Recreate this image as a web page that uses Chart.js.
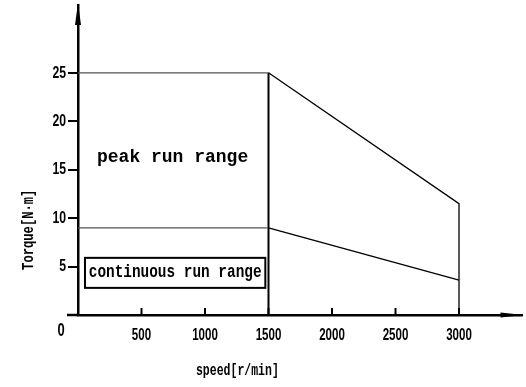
<!DOCTYPE html>
<html>
<head>
<meta charset="utf-8">
<script src="https://cdn.jsdelivr.net/npm/chart.js@4.4.1/dist/chart.umd.min.js"></script>
<style>
  html, body { margin: 0; padding: 0; background: #fff; }
  #wrap { width: 526px; height: 387px; }
</style>
</head>
<body>
<div id="wrap"><canvas id="torque-chart" width="526" height="387"></canvas></div>
<script>
// Curva torque x velocidade (faixas de operacao)
const speedTicks = [500, 1000, 1500, 2000, 2500, 3000];
const torqueTicks = [5, 10, 15, 20, 25];

const peakSpeed = [0, 1500, 3000, 3000];
const peakTorque = [25, 25, 11.5, 0];

const contSpeed = [0, 1500, 3000];
const contTorque = [9, 9, 3.6];

const dividerSpeed = [1500, 1500];
const dividerTorque = [0, 25];

const xTitle = 'speed[r/min]';
const yTitle = 'Torque[N\u00b7m]';
const peakLabel = 'peak run range';
const contLabel = 'continuous run range';

function toPoints(xs, ys) {
  return xs.map((x, i) => ({ x: x, y: ys[i] }));
}

const numFont = "'Liberation Sans', Arial, sans-serif";
const textFont = "'Liberation Mono', 'DejaVu Sans Mono', monospace";

// linhas horizontais em cinza, o resto em preto
const segColor = ctx => (ctx.p0.parsed.y === ctx.p1.parsed.y ? '#555' : '#000');

// texto estreito (a fonte do desenho original e condensada)
function narrowText(ctx, txt, x, y, sx) {
  ctx.save();
  ctx.translate(x, y);
  ctx.scale(sx, 1);
  ctx.fillText(txt, 0, 0);
  ctx.restore();
}

const extras = {
  id: 'extras',
  afterDraw(chart) {
    const ctx = chart.ctx;
    const xs = chart.scales.x;
    const ys = chart.scales.y;
    const area = chart.chartArea;
    const ox = xs.getPixelForValue(0);
    const oy = ys.getPixelForValue(0);
    ctx.save();

    // eixo x prolongado para a esquerda
    ctx.strokeStyle = '#000';
    ctx.lineWidth = 2.5;
    ctx.beginPath();
    ctx.moveTo(ox - 11, oy);
    ctx.lineTo(ox, oy);
    ctx.stroke();

    // marcas do eixo x (para cima)
    ctx.lineWidth = 2;
    xs.ticks.forEach(t => {
      const px = xs.getPixelForValue(t.value);
      ctx.beginPath();
      ctx.moveTo(px, oy);
      ctx.lineTo(px, oy - 7);
      ctx.stroke();
    });

    // setas
    ctx.fillStyle = '#000';
    ctx.beginPath();
    ctx.moveTo(ox, area.top - 2);
    ctx.lineTo(ox - 3, area.top + 20);
    ctx.lineTo(ox + 3, area.top + 20);
    ctx.closePath();
    ctx.fill();
    ctx.beginPath();
    ctx.moveTo(area.right + 1, oy);
    ctx.lineTo(area.right - 22, oy - 2.5);
    ctx.lineTo(area.right - 22, oy + 2.5);
    ctx.closePath();
    ctx.fill();

    // rotulos dos ticks
    ctx.font = 'bold 17px ' + numFont;
    ctx.textBaseline = 'middle';
    ctx.textAlign = 'center';
    xs.ticks.forEach(t => {
      narrowText(ctx, String(t.value), xs.getPixelForValue(t.value), oy + 20, 0.68);
    });
    ctx.textAlign = 'right';
    ys.ticks.forEach(t => {
      narrowText(ctx, String(t.value), ox - 12, ys.getPixelForValue(t.value), 0.72);
    });

    // origem
    ctx.font = 'bold 18px ' + numFont;
    ctx.textAlign = 'center';
    narrowText(ctx, '0', ox - 17, oy + 16, 0.72);

    // titulos dos eixos
    ctx.font = 'bold 16px ' + textFont;
    narrowText(ctx, xTitle, xs.getPixelForValue(1255), oy + 56, 0.72);

    ctx.save();
    ctx.translate(29, ys.getPixelForValue(8.8));
    ctx.rotate(-Math.PI / 2);
    ctx.scale(0.76, 1);
    ctx.fillText(yTitle, 0, 0);
    ctx.restore();

    // rotulos das faixas
    ctx.font = 'bold 18px ' + textFont;
    ctx.fillText(peakLabel, xs.getPixelForValue(745), ys.getPixelForValue(16.3));

    const bx0 = xs.getPixelForValue(55);
    const bx1 = xs.getPixelForValue(1475);
    const by0 = ys.getPixelForValue(5.9);
    const by1 = ys.getPixelForValue(2.8);
    ctx.lineWidth = 2;
    ctx.strokeRect(bx0, by0, bx1 - bx0, by1 - by0);
    narrowText(ctx, contLabel, (bx0 + bx1) / 2, (by0 + by1) / 2, 0.8);

    ctx.restore();
  }
};

new Chart(document.getElementById('torque-chart'), {
  type: 'line',
  data: {
    datasets: [
      {
        label: 'peak',
        data: toPoints(peakSpeed, peakTorque),
        borderColor: '#000',
        borderWidth: 1.3,
        segment: { borderColor: segColor },
        pointRadius: 0,
        tension: 0
      },
      {
        label: 'continuous',
        data: toPoints(contSpeed, contTorque),
        borderColor: '#000',
        borderWidth: 1.3,
        segment: { borderColor: segColor },
        pointRadius: 0,
        tension: 0
      },
      {
        label: 'divider',
        data: toPoints(dividerSpeed, dividerTorque),
        borderColor: '#000',
        borderWidth: 2,
        pointRadius: 0
      }
    ]
  },
  options: {
    responsive: false,
    animation: false,
    devicePixelRatio: 1,
    layout: { padding: { top: 5, right: 3.5, left: 0, bottom: 0 } },
    plugins: {
      legend: { display: false },
      tooltip: { enabled: false }
    },
    scales: {
      x: {
        type: 'linear',
        min: 0,
        max: 3500,
        afterFit: s => { s.height = 72; },
        afterBuildTicks: s => { s.ticks = speedTicks.map(v => ({ value: v })); },
        border: { display: true, color: '#000', width: 2.5 },
        grid: { display: true, drawOnChartArea: false, drawTicks: false },
        ticks: { display: false, autoSkip: false, maxRotation: 0 }
      },
      y: {
        type: 'linear',
        min: 0,
        max: 32,
        afterFit: s => { s.width = 78; },
        afterBuildTicks: s => { s.ticks = torqueTicks.map(v => ({ value: v })); },
        border: { display: true, color: '#000', width: 2.5 },
        grid: { display: true, drawOnChartArea: false, drawTicks: true, tickLength: 10, color: '#000', lineWidth: 2 },
        ticks: { display: false }
      }
    }
  },
  plugins: [extras]
});
</script>
</body>
</html>
